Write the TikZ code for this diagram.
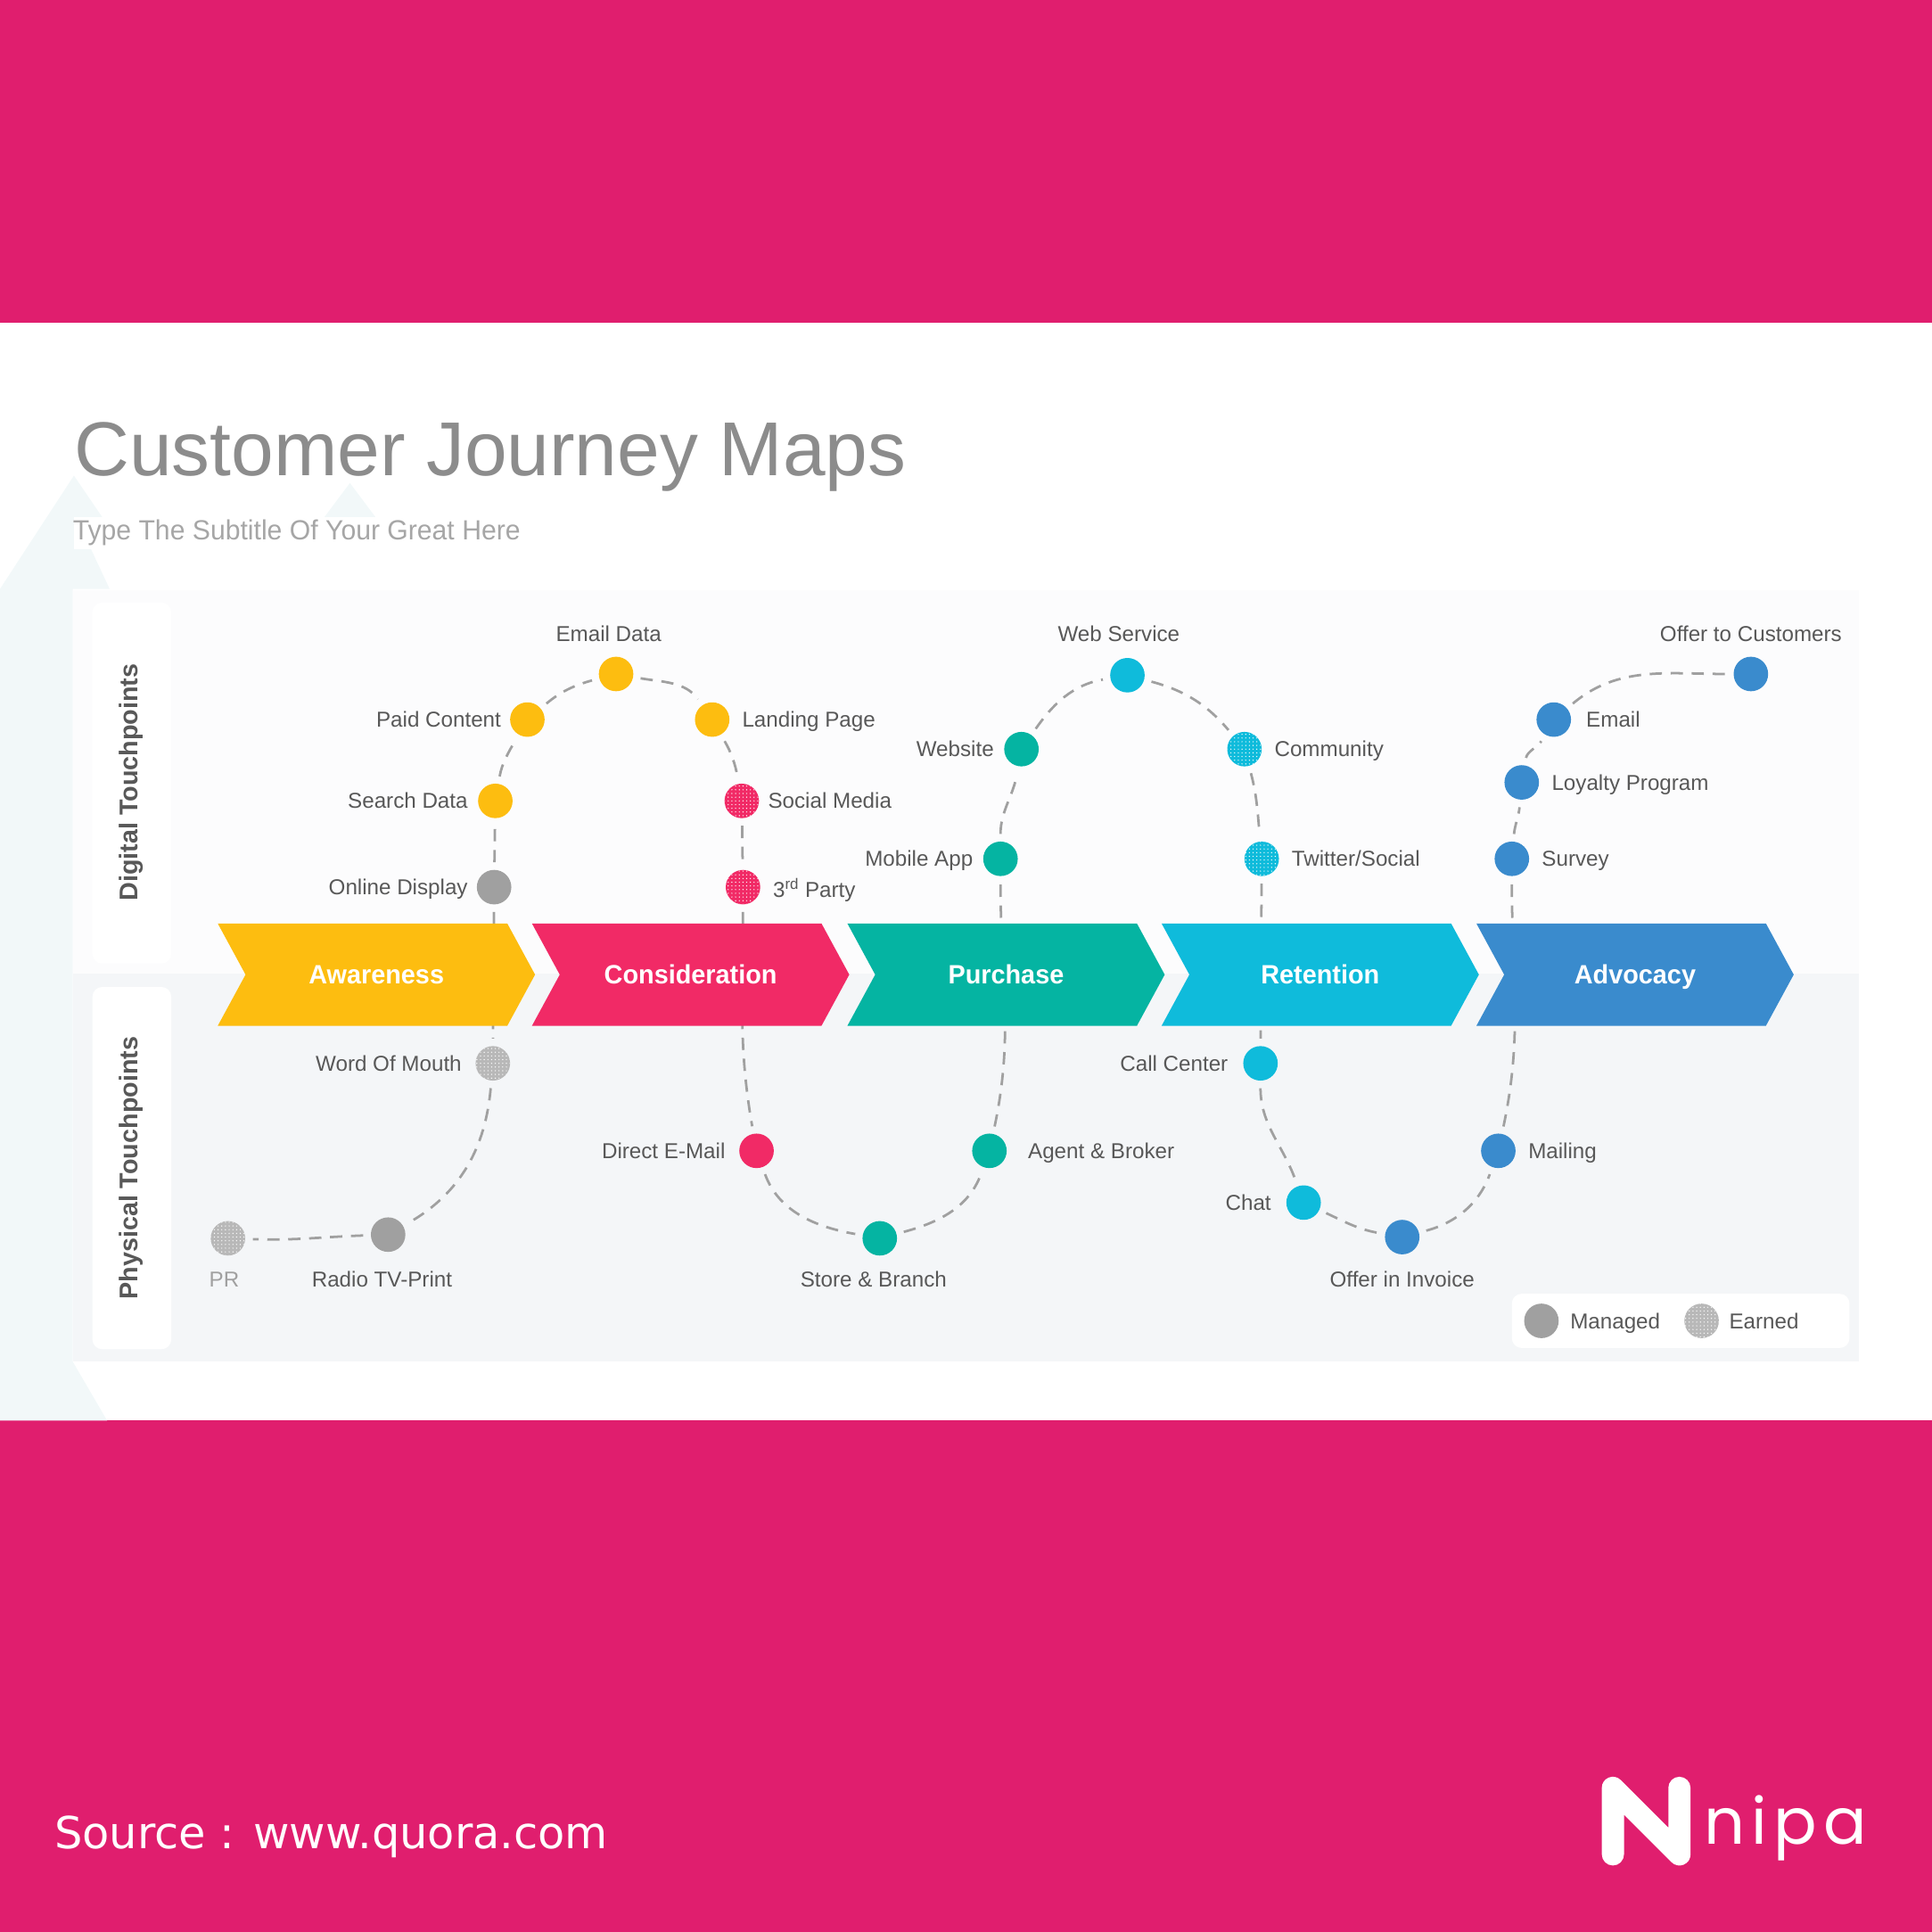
\documentclass[tikz,border=0pt]{standalone}
\usepackage{fontspec}
\setmainfont{Liberation Sans}
\newfontfamily\narrowfont[FakeStretch=0.97]{Liberation Sans}
\newfontfamily\sourcefont{DejaVu Sans}
\newfontfamily\logofont[LetterSpace=10]{Poppins}
\usetikzlibrary{positioning}
\usetikzlibrary{patterns}
\usetikzlibrary{shapes.symbols}
\definecolor{bandpink}{HTML}{E01E6E}
\definecolor{amber}{HTML}{FDBD10}
\definecolor{rose}{HTML}{F12A66}
\definecolor{teal}{HTML}{05B4A2}
\definecolor{cyan}{HTML}{0FBBDB}
\definecolor{blue}{HTML}{3A8BCD}
\definecolor{mist}{HTML}{F2F8F9}
\definecolor{paleup}{HTML}{FCFCFD}
\definecolor{paledown}{HTML}{F4F6F8}
\definecolor{stone}{HTML}{A0A0A0}
\definecolor{ink}{HTML}{585858}
\tikzset{node distance=8pt,
    tp/.style={
        circle,
        inner sep=0pt,
        minimum size=28pt,
        fill=#1},
    tpdots/.style={
        circle,
        inner sep=0pt,
        minimum size=28pt,
        preaction={fill=#1},
        pattern=dots,
        pattern color=white},
    lbl/.style={
        inner sep=0pt,
        text=ink,
        text height=12.5pt,
        text depth=0pt,
        font=\fontsize{17.5}{20}\selectfont},
    stage/.style={
        signal,
        signal from=west,
        signal to=east,
        signal pointer angle=123,
        minimum width=257.5pt,
        minimum height=83pt,
        inner sep=0pt,
        fill=#1,
        text=white,
        text height=15pt,
        text depth=0pt,
        font=\narrowfont\bfseries\fontsize{21.5}{24}\selectfont},
    side/.style={
        rounded corners=8pt,
        fill=white},
    sidetext/.style={
        rotate=90,
        inner sep=0pt,
        text=ink,
        font=\bfseries\fontsize{20.8}{24}\selectfont},
    path/.style={
        draw=stone,
        line width=2pt,
        dash pattern=on 10pt off 7pt,
        shorten <=6pt,
        shorten >=6pt}}

\begin{document}
\begin{tikzpicture}[x=1pt,y=1pt]
        \useasboundingbox (0,0) rectangle (1568,-1568);

        \fill[bandpink] (0,0) rectangle (1568,-262);
        \fill[bandpink] (0,-1153) rectangle (1568,-1568);
        \fill[mist] (0,-478) -- (60,-386) -- (90,-430) -- (74,-446) -- (89,-478) -- (59,-478) -- (59,-1105) -- (87,-1153) -- (0,-1153) -- cycle;
        \fill[mist] (284,-392) -- (311,-428) -- (257,-428) -- cycle;
        \fill[white] (60,-420) rectangle (430,-446);
        \fill[paleup] (59,-479) rectangle (1509,-790);
        \fill[paledown] (59,-790) rectangle (1509,-1105);
        \fill[side] (75,-489) rectangle (139,-782);
        \fill[side] (75,-801) rectangle (139,-1095);
        \fill[side] (1227,-1050) rectangle (1501,-1094);

        \node[anchor=west,inner sep=0pt,text=black!45,font=\fontsize{62}{70}\selectfont] (title) at (60,-371) {Customer Journey Maps};
        \node[anchor=west,inner sep=0pt,text=black!35,font=\narrowfont\fontsize{22.5}{28}\selectfont] (subtitle) at (59,-432) {Type The Subtitle Of Your Great Here};
        \node[sidetext] (digital) at (106.5,-635) {Digital Touchpoints};
        \node[sidetext] (physical) at (106.5,-948) {Physical Touchpoints};

        \node[tp=stone] (online) at (401,-720) {};
        \node[tp=amber] (search) at (402,-650) {};
        \node[tp=amber] (paid) at (428,-584) {};
        \node[tp=amber] (emaildata) at (500,-547) {};
        \node[tp=amber] (landing) at (578,-584) {};
        \node[tpdots=rose] (social) at (602,-650) {};
        \node[tpdots=rose] (third) at (603,-720) {};
        \node[tp=rose] (direct) at (614,-934) {};
        \node[tp=teal] (store) at (714,-1005) {};
        \node[tp=teal] (agent) at (803,-934) {};
        \node[tp=teal] (mobile) at (812,-697) {};
        \node[tp=teal] (website) at (829,-608) {};
        \node[tp=cyan] (web) at (915,-548) {};
        \node[tpdots=cyan] (community) at (1010,-608) {};
        \node[tpdots=cyan] (twitter) at (1024,-697) {};
        \node[tp=cyan] (call) at (1023,-863) {};
        \node[tp=cyan] (chat) at (1058,-976) {};
        \node[tp=blue] (invoice) at (1138,-1004) {};
        \node[tp=blue] (mailing) at (1216,-934) {};
        \node[tp=blue] (survey) at (1227,-697) {};
        \node[tp=blue] (loyalty) at (1235,-635) {};
        \node[tp=blue] (email) at (1261,-584) {};
        \node[tp=blue] (offer) at (1421,-547) {};
        \node[tpdots=stone!75] (mouth) at (400,-863) {};
        \node[tp=stone] (radio) at (315,-1002) {};
        \node[tpdots=stone!75] (pr) at (185,-1005) {};

        \draw[path] (online) -- (search);
        \draw[path] (search) to[out=80,in=-120] (paid);
        \draw[path] (paid) to[out=40,in=195] (emaildata);
        \draw[path] (emaildata) to[out=-10,in=125] (landing);
        \draw[path] (landing) to[out=-60,in=100] (social);
        \draw[path] (social) -- (third);
        \draw[path] (third) to[out=-90,in=100] (direct);
        \draw[path] (direct) to[out=-70,in=170] (store);
        \draw[path] (store) to[out=15,in=-110] (agent);
        \draw[path] (agent) to[out=78,in=-90] (mobile);
        \draw[path] (mobile) to[out=90,in=-100] (website);
        \draw[path] (website) to[out=55,in=190] (web);
        \draw[path] (web) to[out=-15,in=130] (community);
        \draw[path] (community) to[out=-75,in=95] (twitter);
        \draw[path] (twitter) -- (call);
        \draw[path] (call) to[out=-90,in=110] (chat);
        \draw[path] (chat) to[out=-25,in=170] (invoice);
        \draw[path] (invoice) to[out=15,in=-110] (mailing);
        \draw[path] (mailing) to[out=78,in=-90] (survey);
        \draw[path] (survey) to[out=85,in=-95] (loyalty);
        \draw[path] (loyalty) to[out=80,in=-120] (email);
        \draw[path] (email) to[out=40,in=180] (offer);
        \draw[path] (online) -- (mouth);
        \draw[path] (mouth) to[out=-95,in=30] (radio);
        \draw[path] (radio) to[out=182,in=-2] (pr);

        \node[stage=amber] (awareness) at (305.5,-791) {Awareness};
        \node[stage=rose] (consideration) at (560.5,-791) {Consideration};
        \node[stage=teal] (purchase) at (816.5,-791) {Purchase};
        \node[stage=cyan] (retention) at (1071.5,-791) {Retention};
        \node[stage=blue] (advocacy) at (1327,-791) {Advocacy};

        \node[lbl,left=7pt of online] (l1) {Online Display};
        \node[lbl,left=8pt of search] (l2) {Search Data};
        \node[lbl,left=7pt of paid] (l3) {Paid Content};
        \node[lbl,above=33pt of emaildata.center,xshift=-6pt,anchor=center] (l4) {Email Data};
        \node[lbl,right=10pt of landing] (l5) {Landing Page};
        \node[lbl,right=7pt of social] (l6) {Social Media};
        \node[lbl,right=10pt of third,yshift=-2pt] (l7) {3\textsuperscript{rd} Party};
        \node[lbl,left=11pt of direct] (l8) {Direct E-Mail};
        \node[lbl,below=33pt of store.center,xshift=-5pt,anchor=center] (l9) {Store \& Branch};
        \node[lbl,right=17pt of agent] (l10) {Agent \& Broker};
        \node[lbl,left=8pt of mobile] (l11) {Mobile App};
        \node[lbl,left=8pt of website] (l12) {Website};
        \node[lbl,above=34pt of web.center,xshift=-7pt,anchor=center] (l13) {Web Service};
        \node[lbl,right=10pt of community] (l14) {Community};
        \node[lbl,right=10pt of twitter] (l15) {Twitter/Social};
        \node[lbl,left=12pt of call] (l16) {Call Center};
        \node[lbl,left=12pt of chat] (l17) {Chat};
        \node[lbl,below=34pt of invoice.center,anchor=center] (l18) {Offer in Invoice};
        \node[lbl,right=10pt of mailing] (l19) {Mailing};
        \node[lbl,right=10pt of survey] (l20) {Survey};
        \node[lbl,right=10pt of loyalty] (l21) {Loyalty Program};
        \node[lbl,right=12pt of email] (l22) {Email};
        \node[lbl,above=33pt of offer.center,anchor=center] (l23) {Offer to Customers};
        \node[lbl,left=11pt of mouth] (l24) {Word Of Mouth};
        \node[lbl,below=36pt of radio.center,xshift=-5pt,anchor=center] (l25) {Radio TV-Print};
        \node[lbl,below=33pt of pr.center,xshift=-3pt,anchor=center,text=stone] (l26) {PR};

        \node[tp=stone] (managed) at (1251,-1072) {};
        \node[lbl,right=9pt of managed] (l27) {Managed};
        \node[tpdots=stone!75] (earned) at (1381,-1072) {};
        \node[lbl,right=8pt of earned] (l28) {Earned};

        \node[anchor=west,inner sep=0pt,text=white,font=\sourcefont\fontsize{35.8}{40}\selectfont] (source) at (44,-1491) {Source : www.quora.com};
        \draw[white,line width=18pt,line join=round,line cap=round] (1309,-1505) -- (1309,-1451) -- (1363,-1505) -- (1363,-1451);
        \node[anchor=base west,inner sep=0pt,text=white,font=\logofont\fontsize{52}{60}\selectfont] (nipa) at (1383,-1497) {nipa};
    \end{tikzpicture}
\end{document}
